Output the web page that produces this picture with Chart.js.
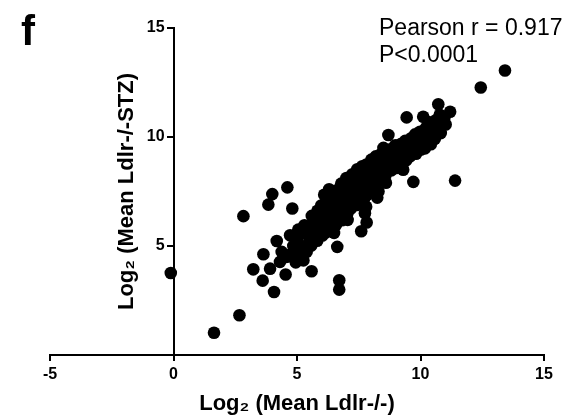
<!doctype html>
<html lang="en">
<head>
  <meta charset="utf-8">
  <title>Log2 Mean Ldlr-/- vs Ldlr-/-STZ</title>
  <style type="text/css">
    html, body {
      margin: 0;
      padding: 0;
      background: #fff;
    }
  </style>
</head>
<body>
  <canvas id="chart_scatter" width="576" height="416"></canvas>

  <script src="https://cdn.jsdelivr.net/npm/chart.js"></script>
  <script>
    // Log2 (Mean Ldlr-/-), one value per gene
    const ldlr = [
      -0.11, 1.64, 2.67, 4.07, 3.61, 3.23, 3.64, 4.18, 4.54, 5.59,
      6.63, 6.71, 6.71, 7.60, 7.82, 2.83, 3.84, 4.00, 4.61, 4.81,
      13.42, 12.44, 9.71, 11.40, 8.25, 10.72, 11.20, 10.11, 9.44, 8.70,
      3.91, 4.38, 4.31, 4.58, 4.78, 4.99, 5.12, 5.26, 5.39, 5.53,
      5.32, 4.72, 4.95, 5.05, 5.20, 4.85, 5.45, 5.05, 5.30,
      5.58, 5.63, 5.57, 5.65, 5.60,
      5.82, 5.76, 5.84, 5.79, 5.83,
      6.03, 5.97, 6.02, 6.05, 5.98,
      6.18, 6.22, 6.17, 6.24, 6.19, 6.23,
      6.42, 6.37, 6.43, 6.38, 6.44, 6.39,
      6.58, 6.63, 6.57, 6.62, 6.60, 6.65,
      6.82, 6.77, 6.83, 6.78, 6.84, 6.79,
      7.03, 6.97, 7.02, 6.98, 7.04, 7.00,
      7.18, 7.23, 7.17, 7.22, 7.19, 7.24,
      7.42, 7.37, 7.43, 7.38, 7.41, 7.44,
      7.58, 7.63, 7.57, 7.62, 7.59, 7.64,
      7.82, 7.77, 7.83, 7.78, 7.81,
      8.02, 7.97, 8.03, 7.98, 8.01,
      8.18, 8.23, 8.17, 8.22, 8.19,
      8.42, 8.37, 8.43, 8.38, 8.41,
      8.58, 8.63, 8.57, 8.62,
      8.82, 8.77, 8.83, 8.78,
      9.02, 8.97, 9.03, 8.98,
      9.18, 9.23, 9.17, 9.22,
      9.42, 9.37, 9.43, 9.38,
      9.58, 9.63, 9.57, 9.62,
      9.82, 9.77, 9.83, 9.78,
      10.02, 9.97, 10.03, 9.98,
      10.18, 10.23, 10.17, 10.22,
      10.42, 10.37, 10.43, 10.38,
      10.58, 10.63, 10.57, 10.62,
      10.82, 10.77, 10.83, 10.78,
      11.02, 10.97,
      6.30, 6.10, 7.75, 7.80, 7.70, 8.30, 7.05, 8.60, 9.30, 8.50, 10.30, 6.50
    ];

    // Log2 (Mean Ldlr-/-STZ), same order as above
    const ldlr_stz = [
      3.76, 1.02, 1.82, 2.89, 3.41, 3.93, 4.62, 5.23, 3.69, 3.84,
      4.96, 3.43, 3.00, 5.68, 6.08, 6.37, 6.90, 7.38, 7.69, 6.72,
      13.05, 12.27, 7.94, 8.00, 7.22, 11.50, 11.16, 10.93, 10.90, 10.09,
      3.96, 4.73, 4.27, 4.50, 4.65, 5.11, 4.65, 4.34, 4.73, 5.26,
      5.57, 5.49, 4.25, 5.45, 5.00, 5.00, 5.05, 5.75, 5.95,
      5.02, 5.36, 5.71, 6.04, 6.38,
      5.24, 5.62, 5.93, 6.31, 6.62,
      5.48, 5.87, 6.18, 6.57, 6.86,
      5.63, 5.94, 6.33, 6.64, 7.01, 7.22,
      5.77, 6.12, 6.44, 6.81, 7.13, 7.42,
      5.97, 6.28, 6.67, 6.98, 7.36, 7.58,
      6.18, 6.57, 6.88, 7.27, 7.58, 7.86,
      6.46, 6.78, 7.17, 7.48, 7.86, 8.12,
      6.72, 7.03, 7.42, 7.73, 8.11, 8.29,
      6.88, 7.27, 7.58, 7.97, 8.28, 8.52,
      7.12, 7.43, 7.82, 8.13, 8.51, 8.66,
      7.33, 7.72, 8.03, 8.42, 8.74,
      7.62, 7.93, 8.32, 8.63, 8.96,
      7.84, 8.22, 8.53, 8.92, 9.11,
      8.07, 8.38, 8.77, 9.04, 9.22,
      8.24, 8.62, 8.93, 9.31,
      8.47, 8.78, 9.17, 9.44,
      8.58, 8.97, 9.28, 9.62,
      8.82, 9.13, 9.47, 9.69,
      8.93, 9.32, 9.58, 9.82,
      9.12, 9.43, 9.77, 9.94,
      9.23, 9.62, 9.88, 10.12,
      9.42, 9.73, 10.07, 10.24,
      9.48, 9.87, 10.18, 10.42,
      9.67, 9.98, 10.32, 10.53,
      9.92, 10.22, 10.48, 10.77,
      10.18, 10.52, 10.78, 11.02,
      10.57, 10.88,
      7.60, 7.35, 6.50, 6.80, 7.10, 7.50, 6.20, 7.90, 8.50, 9.50, 10.70, 5.60
    ];

    const x_ticks = [-5, 0, 5, 10, 15];
    const y_ticks = [5, 10, 15];
    const panel_letter = 'f';
    const stats_lines = ['Pearson r = 0.917', 'P<0.0001'];
    const x_title = 'Log₂ (Mean Ldlr-/-)';
    const y_title = 'Log₂ (Mean Ldlr-/-STZ)';

    const font_family = '"Liberation Sans", Arial, Helvetica, sans-serif';

    const points = ldlr.map(function (v, i) { return {x: v, y: ldlr_stz[i]}; });

    // panel letter, stats and the y title (the y axis sits at x = 0)
    const panelText = {
      id: 'panelText',
      afterDraw(chart) {
        const ctx = chart.ctx;
        const area = chart.chartArea;
        ctx.save();
        ctx.fillStyle = '#000';
        ctx.textAlign = 'left';
        ctx.textBaseline = 'alphabetic';

        ctx.font = 'bold 42px ' + font_family;
        ctx.fillText(panel_letter, 21, 45);

        ctx.font = '23px ' + font_family;
        ctx.fillText(stats_lines[0], 379, 35);
        ctx.fillText(stats_lines[1], 379, 62);

        ctx.translate(133, (area.top + area.bottom) / 2);
        ctx.rotate(-Math.PI / 2);
        ctx.textAlign = 'center';
        ctx.font = 'bold 22px ' + font_family;
        ctx.fillText(y_title, 0, 0);
        ctx.restore();
      }
    };

    const config_scatter = {
      type: 'scatter',
      data: {
        datasets: [{
          data: points,
          backgroundColor: '#000',
          borderWidth: 0,
          pointRadius: 6.3,
          pointHoverRadius: 6.3
        }]
      },
      options: {
        responsive: false,
        animation: false,
        devicePixelRatio: 1,
        layout: {
          padding: {left: 50, right: 32, top: 28, bottom: 0}
        },
        plugins: {
          legend: {display: false},
          tooltip: {enabled: false}
        },
        scales: {
          x: {
            type: 'linear',
            position: 'bottom',
            min: -5,
            max: 15,
            border: {color: '#000', width: 2},
            grid: {drawOnChartArea: false, tickLength: 6, color: '#000', lineWidth: 2},
            ticks: {
              color: '#000',
              padding: 4,
              font: {family: font_family, size: 16, weight: 'bold'}
            },
            afterBuildTicks: function (scale) {
              scale.ticks = x_ticks.map(function (v) { return {value: v}; });
            },
            afterFit: function (scale) {
              scale.height = 61;
            },
            title: {
              display: true,
              text: x_title,
              color: '#000',
              padding: 0,
              font: {family: font_family, size: 22, weight: 'bold', lineHeight: 1.1}
            }
          },
          y: {
            type: 'linear',
            position: {x: 0},
            min: 0,
            max: 15,
            border: {color: '#000', width: 2},
            grid: {drawOnChartArea: false, tickLength: 6, color: '#000', lineWidth: 2},
            ticks: {
              color: '#000',
              font: {family: font_family, size: 16, weight: 'bold'},
              // labels of an axis placed at a value get no padding, so keep them off the tick marks
              callback: function (value) { return value + '  '; }
            },
            afterBuildTicks: function (scale) {
              scale.ticks = y_ticks.map(function (v) { return {value: v}; });
            }
          }
        }
      },
      plugins: [panelText]
    };

    const chart_scatter = new Chart(
      document.getElementById('chart_scatter'),
      config_scatter
    );
  </script>
</body>
</html>
